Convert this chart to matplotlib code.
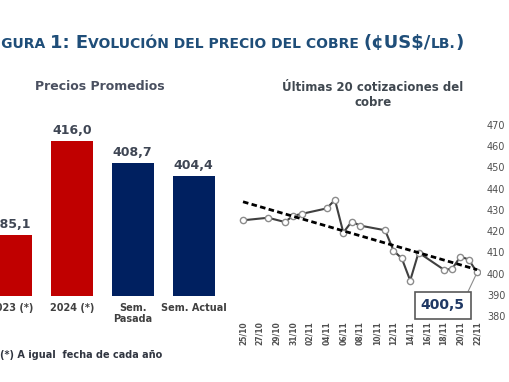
import numpy as np
import pandas as pd
import matplotlib
matplotlib.use("Agg")
import matplotlib.pyplot as plt
import matplotlib.dates as mdates

# Bar chart data
bar_cats = ["2023 (*)", "2024 (*)", "Sem.\nPasada", "Sem. Actual"]
bar_vals = [385.1, 416.0, 408.7, 404.4]
bar_labels = ["385,1", "416,0", "408,7", "404,4"]
bar_colors = ["#C00000", "#C00000", "#002060", "#002060"]

# Last 20 quotes
dates = ["2024-10-25", "2024-10-28", "2024-10-30", "2024-10-31", "2024-11-01",
         "2024-11-04", "2024-11-05", "2024-11-06", "2024-11-07", "2024-11-08",
         "2024-11-11", "2024-11-12", "2024-11-13", "2024-11-14", "2024-11-15",
         "2024-11-18", "2024-11-19", "2024-11-20", "2024-11-21", "2024-11-22"]
prices = [425.1, 426.3, 424.3, 427.2, 428.1,
          430.7, 434.7, 419.3, 424.5, 422.6,
          420.4, 410.8, 407.1, 396.7, 409.9,
          401.9, 402.1, 408.0, 406.6, 400.5]
yticks = [380, 390, 400, 410, 420, 430, 440, 450, 460, 470]

W, H = 510, 382
fig = plt.figure(figsize=(W / 100, H / 100), dpi=100)
fig.patch.set_facecolor("white")

# ---- title in small caps, built piece by piece
title_color = "#1F4E79"
big, small = 13, 10
pieces = [("F", big), ("IGURA ", small), ("1: E", big),
          ("VOLUCIÓN DEL PRECIO DEL COBRE ", small), ("(¢US$/", big),
          ("LB.", small), (")", big)]
renderer = fig.canvas.get_renderer()

def width_of(s, size):
    t = fig.text(0, 0, s, fontsize=size, fontweight="bold")
    w = t.get_window_extent(renderer).width
    t.remove()
    return w

# "FI" falls off the left edge, "GURA" starts near x=1
x = 1 - width_of("F", big) - width_of("I", small)
for s, size in pieces:
    t = fig.text(x / W, 1 - 48 / H, s, fontsize=size, fontweight="bold",
                 color=title_color, va="baseline", ha="left")
    x += t.get_window_extent(renderer).width

# ---- left: average prices
ax1 = fig.add_axes([-19.4 / W, (H - 296) / H, 243.4 / W, 65 * 3.04 / H])
pos = np.arange(len(bar_vals))
ax1.bar(pos, bar_vals, width=0.69, color=bar_colors)
ax1.set_xlim(-0.5, 3.5)
ax1.set_ylim(365, 430)
for p, v, lab in zip(pos, bar_vals, bar_labels):
    ax1.annotate(lab, (p, v), xytext=(0, 3), textcoords="offset points",
                 ha="center", va="bottom", fontsize=9, fontweight="bold",
                 color="#3F4654")
ax1.set_xticks(pos)
ax1.set_xticklabels(bar_cats, fontsize=7, fontweight="bold", color="#404040",
                    linespacing=1.1)
ax1.tick_params(axis="x", length=0, pad=5)
ax1.set_yticks([])
for s in ax1.spines.values():
    s.set_visible(False)
ax1.patch.set_alpha(0)
fig.text(100 / W, 1 - 87 / H, "Precios Promedios", fontsize=9,
         fontweight="bold", color="#4A5060", ha="center", va="center")
fig.text(0 / W, 1 - 355 / H, "(*) A igual  fecha de cada año", fontsize=7,
         fontweight="bold", color="#303540", ha="left", va="center")

# ---- right: last 20 quotes
d = pd.to_datetime(dates)
ax2 = fig.add_axes([238 / W, (H - 316) / H, 242 / W, 191 / H])
ax2.plot(d, prices, color="#404040", lw=1.5, marker="o", markersize=4.5,
         markerfacecolor="white", markeredgecolor="#8C8C8C",
         markeredgewidth=1, zorder=3)
xn = mdates.date2num(d)
k, b = np.polyfit(xn, prices, 1)
ax2.plot(d, k * xn + b, color="black", lw=2, linestyle=(0, (2, 1.2)), zorder=4)
ax2.set_ylim(380, 470)
ax2.set_yticks(yticks)
ax2.yaxis.tick_right()
ax2.tick_params(axis="y", length=0, pad=5, labelsize=7, labelcolor="#505050")
xt = pd.date_range(dates[0], dates[-1], freq="2D")
ax2.set_xticks(xt)
ax2.xaxis.set_major_formatter(mdates.DateFormatter("%d/%m"))
ax2.tick_params(axis="x", length=0, pad=4, labelsize=5.5, labelcolor="#505050",
                labelrotation=90)
for lab in ax2.get_xticklabels():
    lab.set_fontweight("bold")
ax2.set_xlim(xn[0] - 0.6, xn[-1] + 0.35)
for s in ax2.spines.values():
    s.set_visible(False)
ax2.patch.set_alpha(0)
ax2.annotate("400,5", xy=(d[-1], prices[-1]), xytext=(xn[-1] - 4.1, 385),
             textcoords="data", ha="center", va="center", fontsize=10,
             fontweight="bold", color="#1F3864",
             bbox=dict(boxstyle="square,pad=0.45", fc="white", ec="#595959", lw=1.2),
             arrowprops=dict(arrowstyle="-", color="#8C8C8C", lw=0.8,
                             shrinkA=0, shrinkB=2, relpos=(1, 1)))
fig.text(373 / W, 1 - 95 / H, "Últimas 20 cotizaciones del\ncobre", fontsize=8.5,
         fontweight="bold", color="#404850", ha="center", va="center",
         linespacing=1.15)

fig.savefig("out.png", dpi=100)
